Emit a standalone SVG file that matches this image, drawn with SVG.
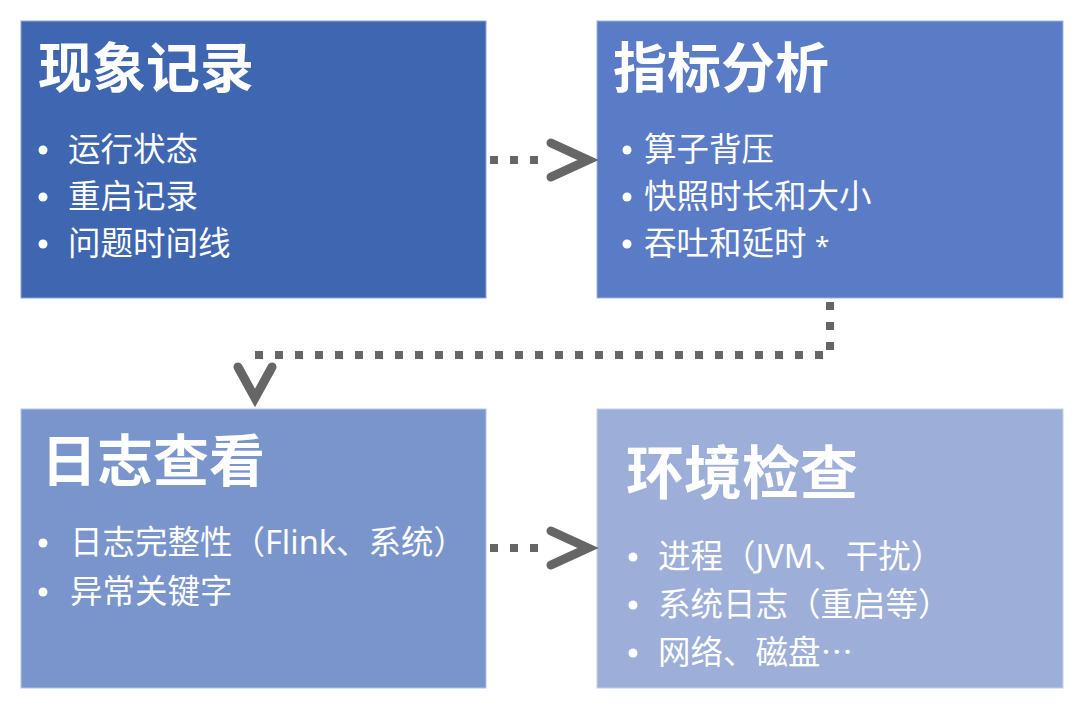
<svg xmlns="http://www.w3.org/2000/svg" width="1080" height="716" viewBox="0 0 1080 716">
<style>
.title{font-family:"Noto Sans CJK SC","Noto Sans",sans-serif;font-weight:bold;fill:#fff}
.item{font-family:"Noto Sans","Noto Sans CJK SC",sans-serif;font-size:32.5px;fill:#fff}
.cjk{font-family:"Noto Sans CJK SC",sans-serif}
.dot{fill:#fff}
.dots{fill:none;stroke:#666;stroke-width:8;stroke-dasharray:8 12}
.head{fill:none;stroke:#666;stroke-width:9;stroke-linecap:round;stroke-linejoin:miter}
</style>
<rect width="1080" height="716" fill="#fff"/>
<g id="node-phenomenon">
<rect x="21" y="21" width="465" height="277" fill="#3F66B1" stroke="#8FA6D6" stroke-width="1"/>
<text class="title" x="38" y="88" font-size="54">现象记录</text>
<circle class="dot" cx="43" cy="150" r="4.5"/>
<text class="item" x="68" y="161">运行状态</text>
<circle class="dot" cx="43" cy="197" r="4.5"/>
<text class="item" x="68" y="208">重启记录</text>
<circle class="dot" cx="43" cy="244" r="4.5"/>
<text class="item" x="68" y="255">问题时间线</text>
</g>
<g id="node-metrics">
<rect x="597" y="21" width="466" height="277" fill="#5A7BC5" stroke="#A3B5E0" stroke-width="1"/>
<text class="title" x="613" y="88" font-size="54">指标分析</text>
<circle class="dot" cx="627" cy="150" r="4.5"/>
<text class="item" x="644" y="161">算子背压</text>
<circle class="dot" cx="627" cy="197" r="4.5"/>
<text class="item" x="644" y="208">快照时长和大小</text>
<circle class="dot" cx="627" cy="244" r="4.5"/>
<text class="item" x="644" y="255">吞吐和延时 <tspan font-size="26">*</tspan></text>
</g>
<g id="node-logs">
<rect x="21" y="409" width="465" height="279" fill="#7A94CC" stroke="#B5C3E3" stroke-width="1"/>
<text class="title" x="41" y="481" font-size="56">日志查看</text>
<circle class="dot" cx="43" cy="543" r="4.5"/>
<text class="item" x="70" y="554">日志完整性（Flink、系统）</text>
<circle class="dot" cx="43" cy="592" r="4.5"/>
<text class="item" x="70" y="603">异常关键字</text>
</g>
<g id="node-env">
<rect x="597" y="409" width="466" height="279" fill="#9DAED8" stroke="#C3CEE8" stroke-width="1"/>
<text class="title" x="626" y="494" font-size="58">环境检查</text>
<circle class="dot" cx="633" cy="557" r="4.5"/>
<text class="item" x="658" y="568">进程（JVM、干扰）</text>
<circle class="dot" cx="633" cy="605" r="4.5"/>
<text class="item" x="658" y="616">系统日志（重启等）</text>
<circle class="dot" cx="633" cy="653" r="4.5"/>
<text class="item cjk" x="658" y="664">网络、磁盘…</text>
</g>
<g id="connectors">
<path class="dots" d="M490,160 H548"/>
<path class="head" d="M551,143 L588,160 L551,177"/>
<path class="dots" d="M830,302 V355 H254 V364"/>
<path class="head" d="M238,367 L255,398 L272,367"/>
<path class="dots" d="M490,548 H548"/>
<path class="head" d="M551,531 L588,548 L551,565"/>
</g>
</svg>
